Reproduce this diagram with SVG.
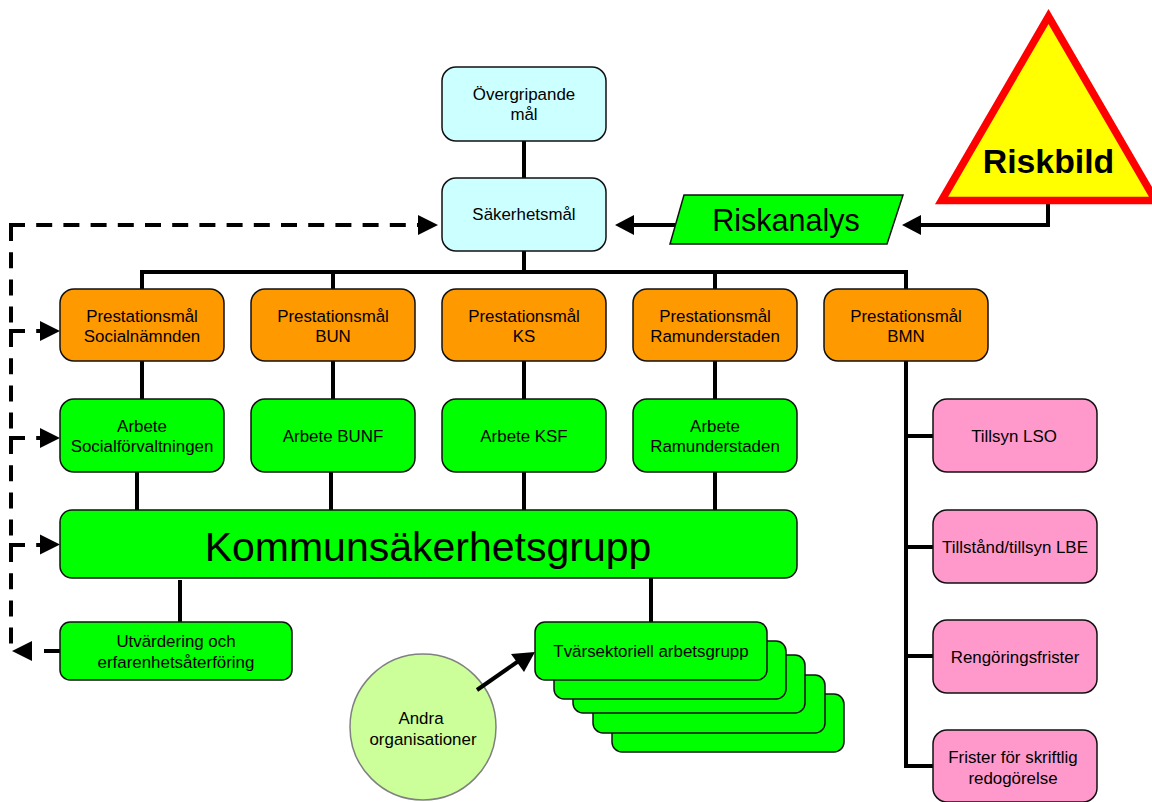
<svg xmlns="http://www.w3.org/2000/svg" width="1152" height="802" viewBox="0 0 1152 802">
<style>
text{font-family:"Liberation Sans",Arial,sans-serif;font-size:16.9px;fill:#000;text-anchor:middle}
.b{stroke:#111;stroke-width:1.5}
.blue{fill:#ccffff}.or{fill:#ff9900}.gr{fill:#00ff00}.pk{fill:#ff99cc}
.c{fill:none;stroke:#000;stroke-width:4}
.d{fill:none;stroke:#000;stroke-width:4;stroke-dasharray:16 11.2}
</style>
<rect width="1152" height="802" fill="#fff"/>
<g id="n-andra"><circle cx="423" cy="727" r="73" fill="#ccff99" stroke="#808080" stroke-width="1.5"/><text x="421" y="724">Andra</text><text x="423" y="745">organisationer</text></g>
<g id="connectors">
<path class="c" d="M524 141V178M524 251V272M142 289V272H906V289M333 272V289M715 272V289"/>
<path class="c" d="M142 361V399M333 361V399M524 361V399M715 361V399"/>
<path class="c" d="M137 472V510M331 472V510M524 472V510M715 472V510"/>
<path class="c" d="M180 580V622M651 578V622"/>
<path class="c" d="M906 361V766H933M906 436H933M906 547H933M906 656H933"/>
<path class="c" d="M1048 204V227M1048 225H921"/>
<path fill="#000" d="M902 225L921 215V235Z"/>
<path class="c" d="M676 225H634"/>
<path fill="#000" d="M615 225L634 215V235Z"/>
<path class="c" d="M477 690L520 660"/>
<path fill="#000" d="M535 652L524 672L511 654Z"/>
<path class="d" d="M9 225H418"/>
<path class="d" d="M11 225V332"/>
<path class="d" d="M11 331V438"/>
<path class="d" d="M11 438V545"/>
<path class="d" d="M11 546V644"/>
<path class="d" d="M9 331H47"/>
<path class="d" d="M9 438H47"/>
<path class="d" d="M9 545H47"/>
<path fill="#000" d="M60 331L40 321V341ZM60 438L40 428V448ZM60 544.500L40 534.500V554.500ZM438 225L418 215V235ZM12 651L32 641V661Z"/>
<path class="c" d="M60 651H44"/>
</g>
<g id="n-overgripande"><rect class="b blue" x="442" y="67" width="164" height="74" rx="14"/><text x="524" y="100">Övergripande</text><text x="524" y="120">mål</text></g>
<g id="n-sakerhet"><rect class="b blue" x="442" y="178" width="164" height="73" rx="14"/><text x="524" y="220">Säkerhetsmål</text></g>
<g id="n-riskanalys"><path class="b gr" d="M684 195H903L887 244H670Z"/><text x="786" y="231" style="font-size:30.500px">Riskanalys</text></g>
<g id="n-riskbild"><path d="M1048.500 16.500L1155.500 200.500H941.500Z" fill="#ffff00" stroke="#ff0000" stroke-width="7.500"/><text x="1048.500" y="173" style="font-size:33.800px;font-weight:bold">Riskbild</text></g>
<g id="n-p1"><rect class="b or" x="60" y="289" width="164" height="72" rx="14"/><text x="142" y="322">Prestationsmål</text><text x="142" y="342">Socialnämnden</text></g>
<g id="n-p2"><rect class="b or" x="251" y="289" width="164" height="72" rx="14"/><text x="333" y="322">Prestationsmål</text><text x="333" y="342">BUN</text></g>
<g id="n-p3"><rect class="b or" x="442" y="289" width="164" height="72" rx="14"/><text x="524" y="322">Prestationsmål</text><text x="524" y="342">KS</text></g>
<g id="n-p4"><rect class="b or" x="633" y="289" width="164" height="72" rx="14"/><text x="715" y="322">Prestationsmål</text><text x="715" y="342">Ramunderstaden</text></g>
<g id="n-p5"><rect class="b or" x="824" y="289" width="164" height="72" rx="14"/><text x="906" y="322">Prestationsmål</text><text x="906" y="342">BMN</text></g>
<g id="n-a1"><rect class="b gr" x="60" y="399" width="164" height="73" rx="14"/><text x="142" y="432">Arbete</text><text x="142" y="452">Socialförvaltningen</text></g>
<g id="n-a2"><rect class="b gr" x="251" y="399" width="164" height="73" rx="14"/><text x="333" y="442">Arbete BUNF</text></g>
<g id="n-a3"><rect class="b gr" x="442" y="399" width="164" height="73" rx="14"/><text x="524" y="442">Arbete KSF</text></g>
<g id="n-a4"><rect class="b gr" x="633" y="399" width="164" height="73" rx="14"/><text x="715" y="432">Arbete</text><text x="715" y="452">Ramunderstaden</text></g>
<g id="n-kommun"><rect class="b gr" x="60" y="510" width="737" height="68" rx="12"/><text x="428" y="561" style="font-size:41px">Kommunsäkerhetsgrupp</text></g>
<g id="n-utv"><rect class="b gr" x="60" y="622" width="232" height="58" rx="10"/><text x="176" y="647">Utvärdering och</text><text x="176" y="668">erfarenhetsåterföring</text></g>
<g id="n-tvar">
<rect class="b gr" x="612" y="694" width="232" height="58" rx="10"/>
<rect class="b gr" x="593" y="675" width="232" height="58" rx="10"/>
<rect class="b gr" x="573" y="655" width="232" height="58" rx="10"/>
<rect class="b gr" x="554" y="641" width="232" height="58" rx="10"/>
<rect class="b gr" x="535" y="622" width="232" height="58" rx="10"/>
<text x="651" y="657">Tvärsektoriell arbetsgrupp</text></g>
<g id="n-m1"><rect class="b pk" x="933" y="399" width="164" height="73" rx="14"/><text x="1014" y="442">Tillsyn LSO</text></g>
<g id="n-m2"><rect class="b pk" x="933" y="510" width="164" height="73" rx="14"/><text x="1015" y="553">Tillstånd/tillsyn LBE</text></g>
<g id="n-m3"><rect class="b pk" x="933" y="620" width="164" height="73" rx="14"/><text x="1015" y="663">Rengöringsfrister</text></g>
<g id="n-m4"><rect class="b pk" x="933" y="730" width="164" height="72" rx="14"/><text x="1013" y="763">Frister för skriftlig</text><text x="1013" y="784">redogörelse</text></g>
</svg>
